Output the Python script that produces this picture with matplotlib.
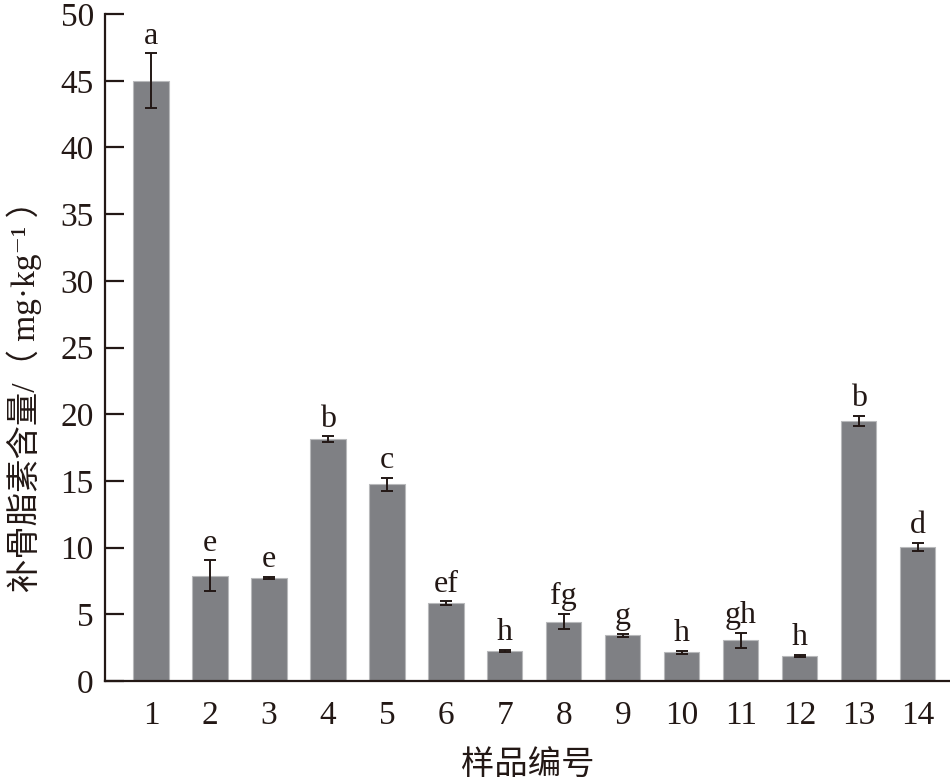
import numpy as np
import matplotlib
matplotlib.use("Agg")
import matplotlib.pyplot as plt

# === DONNÉES ===
samples = [str(i) for i in range(1, 15)]
means = [45.0, 7.9, 7.72, 18.15, 14.75, 5.85, 2.25, 4.45, 3.42, 2.15, 3.05, 1.88, 19.5, 10.07]
errors = [2.05, 1.15, 0.1, 0.2, 0.5, 0.12, 0.08, 0.58, 0.12, 0.12, 0.55, 0.1, 0.38, 0.3]
letters = ["a", "e", "e", "b", "c", "ef", "h", "fg", "g", "h", "gh", "h", "b", "d"]

ink = "#231815"
bar_color = "#7f8084"

plt.rcParams["font.family"] = ["Liberation Serif", "DejaVu Serif", "Noto Sans CJK SC"]

fig = plt.figure(figsize=(9.5, 7.81), dpi=100)
ax = fig.add_axes([0.1105, 0.128, 0.8895, 0.854])

x = np.arange(1, len(samples) + 1)
ax.bar(x, means, width=0.6, color=bar_color, edgecolor="#b8b9bb", linewidth=0.8, zorder=2)
ax.errorbar(x, means, yerr=errors, fmt="none", ecolor=ink, elinewidth=1.4,
            capsize=4.5, capthick=1.4, zorder=3)

for xi, m, e, lab in zip(x, means, errors, letters):
    ax.text(xi, m + e + 0.2, lab, ha="center", va="bottom", fontsize=23, color=ink)

ax.set_xlim(0.22, 14.55)
ax.set_ylim(0, 50)
ax.set_yticks(range(0, 51, 5))
ax.set_xticks(x)
ax.set_xticklabels(samples)

for side in ["top", "right"]:
    ax.spines[side].set_visible(False)
for side in ["left", "bottom"]:
    ax.spines[side].set_color(ink)
    ax.spines[side].set_linewidth(1.6)

ax.tick_params(axis="y", direction="in", length=14, width=1.6, color=ink,
               labelsize=24, labelcolor=ink, pad=8)
ax.tick_params(axis="x", length=0, labelsize=24, labelcolor=ink, pad=14)

ax.set_xlabel("样品编号", fontsize=24, color=ink, family=["Noto Sans CJK SC"], labelpad=12)
ax.set_ylabel("补骨脂素含量/（ mg·kg⁻¹ ）", fontsize=24, color=ink,
              family=["Liberation Serif", "DejaVu Serif", "Noto Sans CJK SC"])
ax.yaxis.set_label_coords(-0.074, 0.44)

plt.savefig("out.png", dpi=100)
